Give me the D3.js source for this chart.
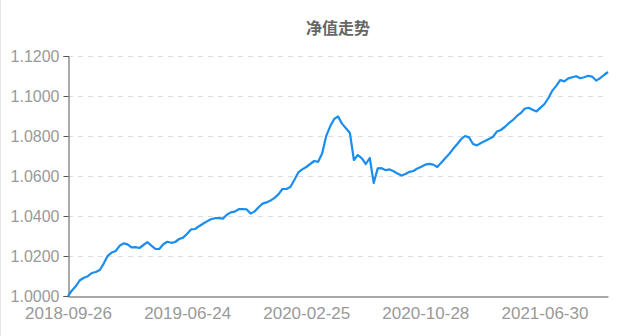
<!DOCTYPE html>
<html>
<head>
<meta charset="utf-8">
<script src="https://cdn.jsdelivr.net/npm/d3@7"></script>
<style>
  body { margin: 0; background: #fff; }
  svg { display: block; font-family: "Noto Sans CJK SC", "Noto Sans", sans-serif; }
</style>
</head>
<body>
<svg id="chart" width="640" height="336"></svg>
<script>
// tick labels on the category axis (index of the point each one sits on)
const tickLabels = ["2018-09-26", "2019-06-24", "2020-02-25", "2020-10-28", "2021-06-30"];
const tickIndex = [0, 30, 60, 90, 120];

const yTicks = [1.00, 1.02, 1.04, 1.06, 1.08, 1.10, 1.12];

// net value, sampled along the curve
const navValues = [
  1.0000, 1.0028, 1.0050, 1.0079, 1.0091, 1.0099, 1.0115, 1.0120, 1.0130, 1.0162,
  1.0201, 1.0217, 1.0225, 1.0251, 1.0263, 1.0258, 1.0243, 1.0244, 1.0240, 1.0255,
  1.0269, 1.0252, 1.0236, 1.0235, 1.0259, 1.0271, 1.0266, 1.0270, 1.0285, 1.0292,
  1.0311, 1.0333, 1.0335, 1.0349, 1.0361, 1.0373, 1.0384, 1.0389, 1.0389, 1.0387,
  1.0406, 1.0418, 1.0422, 1.0434, 1.0435, 1.0433, 1.0412, 1.0423, 1.0444, 1.0462,
  1.0468, 1.0477, 1.0491, 1.0508, 1.0535, 1.0535, 1.0545, 1.0580, 1.0618, 1.0633,
  1.0645, 1.0660, 1.0675, 1.0671, 1.0712, 1.0798, 1.0847, 1.0884, 1.0898, 1.0862,
  1.0839, 1.0815, 1.0680, 1.0705, 1.0688, 1.0660, 1.0690, 1.0565, 1.0638, 1.0639,
  1.0629, 1.0633, 1.0624, 1.0612, 1.0602, 1.0610, 1.0621, 1.0625, 1.0638, 1.0646,
  1.0657, 1.0661, 1.0657, 1.0645, 1.0666, 1.0689, 1.0710, 1.0736, 1.0759, 1.0784,
  1.0800, 1.0793, 1.0760, 1.0753, 1.0765, 1.0775, 1.0785, 1.0795, 1.0822, 1.0830,
  1.0845, 1.0864, 1.0879, 1.0899, 1.0914, 1.0936, 1.0941, 1.0931, 1.0923, 1.0942,
  1.0960, 1.0990, 1.1027, 1.1052, 1.1080, 1.1073, 1.1088, 1.1094, 1.1099, 1.1089,
  1.1094, 1.1101, 1.1097, 1.1077, 1.1089, 1.1105, 1.1120
];

const margin = { top: 56, right: 32, bottom: 40, left: 68 };
const width = 640, height = 336;

const svg = d3.select("#chart");

// faint frame line on the left edge
svg.append("line")
    .attr("x1", 0.5).attr("x2", 0.5)
    .attr("y1", 0).attr("y2", height)
    .attr("stroke", "#e6e6e6");

const x = d3.scaleLinear()
    .domain([0, navValues.length - 1])
    .range([margin.left, width - margin.right]);

const y = d3.scaleLinear()
    .domain([1.00, 1.12])
    .range([height - margin.bottom, margin.top]);

// title
svg.append("text")
    .attr("x", (margin.left + width - margin.right) / 2)
    .attr("y", 34)
    .attr("text-anchor", "middle")
    .attr("font-size", 16)
    .attr("font-weight", "bold")
    .attr("fill", "#666")
    .text("净值走势");

// dashed grid
svg.append("g")
    .selectAll("line")
    .data(yTicks.slice(1))
    .join("line")
    .attr("x1", margin.left)
    .attr("x2", width - margin.right)
    .attr("y1", d => Math.round(y(d)) + 0.5)
    .attr("y2", d => Math.round(y(d)) + 0.5)
    .attr("stroke", "#ddd")
    .attr("stroke-dasharray", "5,5");

// y axis
const yAxis = d3.axisLeft(y)
    .tickValues(yTicks)
    .tickFormat(d3.format(".4f"))
    .tickSize(5)
    .tickPadding(4);

const gy = svg.append("g")
    .attr("transform", `translate(${margin.left + 0.5},0)`)
    .call(yAxis);
gy.select(".domain").attr("stroke", "#555");
gy.selectAll(".tick line").attr("stroke", "#555");
gy.selectAll(".tick text").attr("fill", "#999").attr("font-size", 16);

// x axis
const xAxis = d3.axisBottom(x)
    .tickValues(tickIndex)
    .tickFormat((d, i) => tickLabels[i])
    .tickSize(0)
    .tickPadding(10);

const gx = svg.append("g")
    .attr("transform", `translate(0,${height - margin.bottom + 0.5})`)
    .call(xAxis);
gx.select(".domain").attr("stroke", "#555");
gx.selectAll(".tick text").attr("fill", "#999").attr("font-size", 17);

// the line
const line = d3.line()
    .x((d, i) => x(i))
    .y(d => y(d));

svg.append("path")
    .datum(navValues)
    .attr("fill", "none")
    .attr("stroke", "#1a8ef0")
    .attr("stroke-width", 2.2)
    .attr("stroke-linejoin", "round")
    .attr("d", line);
</script>
</body>
</html>
